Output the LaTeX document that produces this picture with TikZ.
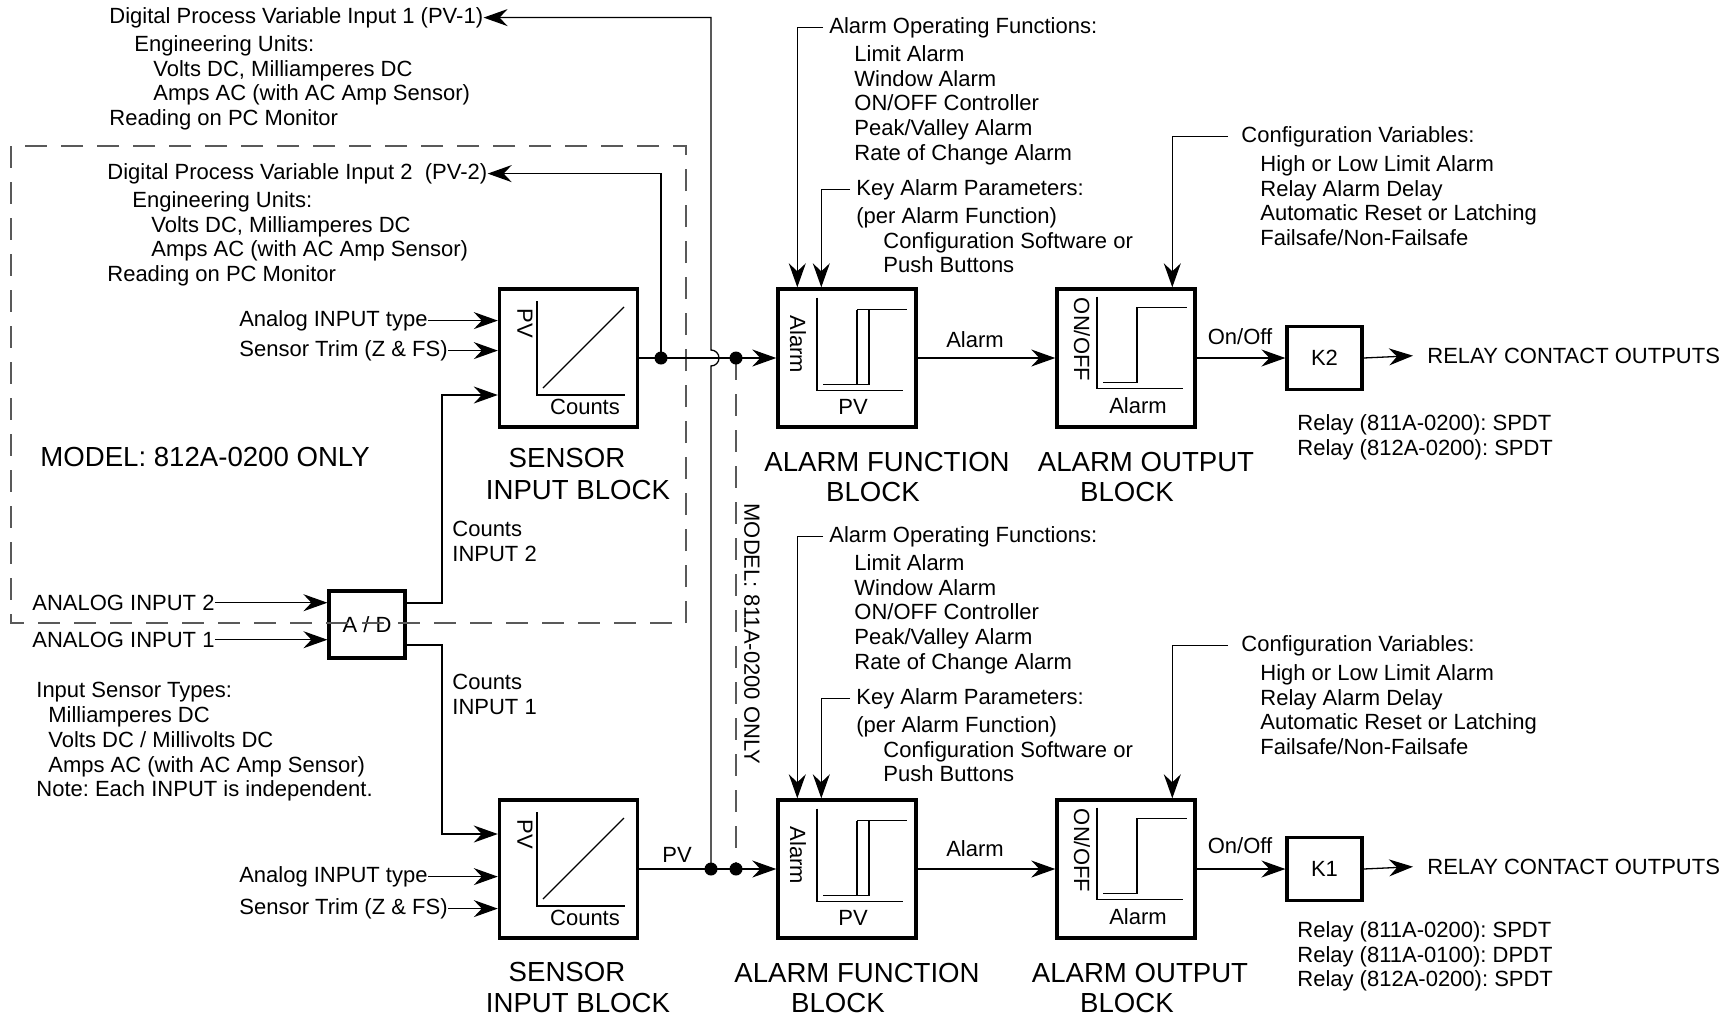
\documentclass[tikz,border=0pt]{standalone}
\usepackage{fontspec}
\setmainfont{Liberation Sans}
\usetikzlibrary{arrows.meta,calc}
\newcommand{\dgtxt}{\fontsize{11.0}{12.4}\selectfont}
\newcommand{\dgbig}{\fontsize{13.8}{15.5}\selectfont}
\frenchspacing
\begin{document}
\begin{tikzpicture}[x=0.5pt,y=-0.5pt,
  ln/.style={line width=0.65pt},
  arr/.style={line width=0.65pt,-{Stealth[length=12pt,width=8.5pt,inset=4pt]}},
  dsh/.style={line width=0.6pt,black!65,dash pattern=on 11pt off 7pt},
  blk/.style={draw,line width=1.7pt,minimum width=69pt,minimum height=69pt,inner sep=0pt},
  kbox/.style={draw,line width=1.6pt,minimum width=37.5pt,minimum height=31.5pt,inner sep=0pt,font=\dgtxt},
  adbox/.style={draw,line width=1.6pt,minimum width=38pt,minimum height=33.5pt,inner sep=0pt,font=\dgtxt},
  tx/.style={inner sep=0pt,font=\dgtxt},
  ml/.style={inner sep=0pt,font=\dgtxt,align=left,anchor=north west},
  big/.style={inner sep=0pt,font=\dgbig},
  gr/.style={line width=0.55pt}
]
\useasboundingbox (0,0) rectangle (1728,1018);

% ---------- boxes
\node[blk] (sib1) at (568.5,358) {};
\node[blk] (afb1) at (847,358) {};
\node[blk] (aob1) at (1126,358) {};
\node[kbox] (k2) at (1324.5,358) {K2};
\node[blk] (sib2) at (568.5,869) {};
\node[blk] (afb2) at (847,869) {};
\node[blk] (aob2) at (1126,869) {};
\node[kbox] (k1) at (1324.5,869) {K1};
\node[adbox] (ad) at (367,624.5) {A / D};

% ---------- internal graphs
\foreach \b in {sib1,sib2}{
  \begin{scope}[shift={(\b.center)}]
    \draw[gr] (-31.5,-57) -- (-31.5,37) -- (56.5,37);
    \draw[gr] (-25.5,30) -- (55.5,-51);
    \node[tx,rotate=-90] (\b-pv) at (-43.5,-35) {PV};
    \node[tx] (\b-ct) at (16.5,49) {Counts};
  \end{scope}
}
\foreach \b in {afb1,afb2}{
  \begin{scope}[shift={(\b.center)}]
    \draw[gr] (-30,-60.5) -- (-30,32.5) -- (56,32.5);
    \draw[gr] (-24,26.5) -- (22,26.5);
    \draw[gr] (10,-48.5) -- (60,-48.5);
    \draw[gr] (10,-48.5) -- (10,26.5);
    \draw[gr] (22,-48.5) -- (22,26.5);
    \node[tx,rotate=-90] (\b-al) at (-49,-13.5) {Alarm};
    \node[tx] (\b-pv) at (6,48.5) {PV};
  \end{scope}
}
\foreach \b in {aob1,aob2}{
  \begin{scope}[shift={(\b.center)}]
    \draw[gr] (-29,-61.5) -- (-29,30.5) -- (57,30.5);
    \draw[gr] (-23,24.5) -- (11,24.5) -- (11,-50.5) -- (61,-50.5);
    \node[tx,rotate=-90] (\b-oo) at (-44,-18.5) {ON/OFF};
    \node[tx] (\b-al) at (12,47.5) {Alarm};
  \end{scope}
}

% ---------- dashed model outlines
\draw[dsh] (11,146) rectangle (686,623);
\coordinate (d1) at (661,358);
\coordinate (d2) at (736,358);
\coordinate (d3) at (711,869);
\coordinate (d4) at (736,869);
\draw[dsh] (d2) -- (d4);
\node[big,anchor=mid west] (m812) at (40,461) {MODEL: 812A-0200 ONLY};
\node[tx,rotate=-90] (m811) at (752,634) {MODEL: 811A-0200 ONLY};

% ---------- top-left texts
\node[tx,anchor=mid west] (pv1t) at (109,18) {Digital Process Variable Input 1 (PV-1)};
\node[ml] (pv1d) at (109,35) {\hspace*{12.5pt}Engineering Units:\\\hspace*{22pt}Volts DC, Milliamperes DC\\\hspace*{22pt}Amps AC (with AC Amp Sensor)\\Reading on PC Monitor};
\node[tx,anchor=mid west] (pv2t) at (107,174) {Digital Process Variable Input 2~ (PV-2)};
\node[ml] (pv2d) at (107,191) {\hspace*{12.5pt}Engineering Units:\\\hspace*{22pt}Volts DC, Milliamperes DC\\\hspace*{22pt}Amps AC (with AC Amp Sensor)\\Reading on PC Monitor};

% ---------- sensor inputs
\node[tx,anchor=mid east] (ait1) at (428,321) {Analog INPUT type};
\node[tx,anchor=mid east] (st1) at (448,351) {Sensor Trim (Z \& FS)};
\node[tx,anchor=mid east] (ait2) at (428,877) {Analog INPUT type};
\node[tx,anchor=mid east] (st2) at (448,909) {Sensor Trim (Z \& FS)};
\draw[arr] (ait1.east) -- (ait1.east -| sib1.west);
\draw[arr] (st1.east) -- (st1.east -| sib1.west);
\draw[arr] (ait2.east) -- (ait2.east -| sib2.west);
\draw[arr] (st2.east) -- (st2.east -| sib2.west);

% ---------- A/D
\node[tx,anchor=mid west] (ai2) at (32,605) {ANALOG INPUT 2};
\node[tx,anchor=mid west] (ai1) at (32,642) {ANALOG INPUT 1};
\draw[arr] (ai2.east) -- (ai2.east -| ad.west);
\draw[arr] (ai1.east) -- (ai1.east -| ad.west);
\coordinate (bt) at (442,603);
\coordinate (bb) at (442,645);
\draw[arr] (ad.east |- bt) -- (bt) |- ($(sib1.west)+(0,37)$);
\draw[arr] (ad.east |- bb) -- (bb) |- ($(sib2.west)+(0,-35)$);
\node[ml] (cin2) at (452,521) {Counts\\INPUT 2};
\node[ml] (cin1) at (452,674) {Counts\\INPUT 1};
\node[ml] (ist) at (36,682) {Input Sensor Types:\\\hspace*{6pt}Milliamperes DC\\\hspace*{6pt}Volts DC / Millivolts DC\\\hspace*{6pt}Amps AC (with AC Amp Sensor)\\Note: Each INPUT is independent.};

% ---------- main signal lines
\draw[arr] (sib1.east) -- (afb1.west);
\draw[arr] (sib2.east) -- (afb2.west);
\draw[arr] (afb1.east) -- (aob1.west);
\draw[arr] (afb2.east) -- (aob2.west);
\draw[arr] (aob1.east) -- (k2.west);
\draw[arr] (aob2.east) -- (k1.west);
\node[tx,anchor=mid west] (rco2) at (1427,358) {RELAY CONTACT OUTPUTS};
\node[tx,anchor=mid west] (rco1) at (1427,869) {RELAY CONTACT OUTPUTS};
\draw[arr] (k2.east) -- ($(rco2.west)+(-14,0)$);
\draw[arr] (k1.east) -- ($(rco1.west)+(-14,0)$);
\draw[arr] (d1) |- (pv2t.east);
\draw[arr] (d3) -- ($(d3 |- d1)+(0,8)$) arc[start angle=90,end angle=-90,radius=8] |- (pv1t.east);
\foreach \d in {d1,d2,d3,d4} \fill (\d) circle[radius=6.5];

\node[tx] (pvl) at (677,855) {PV};
\node[tx] (al2) at (975,340) {Alarm};
\node[tx] (al1) at (975,849) {Alarm};
\node[tx] (oo2) at (1240,337) {On/Off};
\node[tx] (oo1) at (1240,846) {On/Off};
\node[ml] (rn2) at (1297,414) {Relay (811A-0200): SPDT\\Relay (812A-0200): SPDT};
\node[ml] (rn1) at (1297,921) {Relay (811A-0200): SPDT\\Relay (811A-0100): DPDT\\Relay (812A-0200): SPDT};

% ---------- parameter texts, top row
\node[tx,anchor=mid west] (aof1) at (829,28) {Alarm Operating Functions:};
\node[ml] (aof1d) at (854,45) {Limit Alarm\\Window Alarm\\ON/OFF Controller\\Peak/Valley Alarm\\Rate of Change Alarm};
\draw[arr] ($(aof1.west)+(-6,0)$) -| ($(afb1.north west)+(21,0)$);
\node[tx,anchor=mid west] (kap1) at (856,190) {Key Alarm Parameters:};
\node[ml] (kap1d) at (856,207) {(per Alarm Function)\\\hspace*{13.5pt}Configuration Software or\\\hspace*{13.5pt}Push Buttons};
\draw[arr] ($(kap1.west)+(-6,0)$) -| ($(afb1.north west)+(45,0)$);
\node[tx,anchor=mid west] (cv1) at (1241,137) {Configuration Variables:};
\node[ml] (cv1d) at (1260,155) {High or Low Limit Alarm\\Relay Alarm Delay\\Automatic Reset or Latching\\Failsafe/Non-Failsafe};
\draw[arr] ($(cv1.west)+(-13,0)$) -| ($(aob1.north west)+(117,0)$);

% ---------- parameter texts, bottom row
\node[tx,anchor=mid west] (aof2) at (829,537) {Alarm Operating Functions:};
\node[ml] (aof2d) at (854,554) {Limit Alarm\\Window Alarm\\ON/OFF Controller\\Peak/Valley Alarm\\Rate of Change Alarm};
\draw[arr] ($(aof2.west)+(-6,0)$) -| ($(afb2.north west)+(21,0)$);
\node[tx,anchor=mid west] (kap2) at (856,699) {Key Alarm Parameters:};
\node[ml] (kap2d) at (856,716) {(per Alarm Function)\\\hspace*{13.5pt}Configuration Software or\\\hspace*{13.5pt}Push Buttons};
\draw[arr] ($(kap2.west)+(-6,0)$) -| ($(afb2.north west)+(45,0)$);
\node[tx,anchor=mid west] (cv2) at (1241,646) {Configuration Variables:};
\node[ml] (cv2d) at (1260,664) {High or Low Limit Alarm\\Relay Alarm Delay\\Automatic Reset or Latching\\Failsafe/Non-Failsafe};
\draw[arr] ($(cv2.west)+(-13,0)$) -| ($(aob2.north west)+(117,0)$);

% ---------- block titles
\node[big] (t1a) at (567,458) {SENSOR};
\node[big] (t1b) at (578,490) {INPUT BLOCK};
\node[big] (t2a) at (887,462) {ALARM FUNCTION};
\node[big] (t2b) at (873,492) {BLOCK};
\node[big] (t3a) at (1146,462) {ALARM OUTPUT};
\node[big] (t3b) at (1127,492) {BLOCK};
\node[big] (b1a) at (567,972) {SENSOR};
\node[big] (b1b) at (578,1003) {INPUT BLOCK};
\node[big] (b2a) at (857,973) {ALARM FUNCTION};
\node[big] (b2b) at (838,1003) {BLOCK};
\node[big] (b3a) at (1140,973) {ALARM OUTPUT};
\node[big] (b3b) at (1127,1003) {BLOCK};
\end{tikzpicture}
\end{document}
